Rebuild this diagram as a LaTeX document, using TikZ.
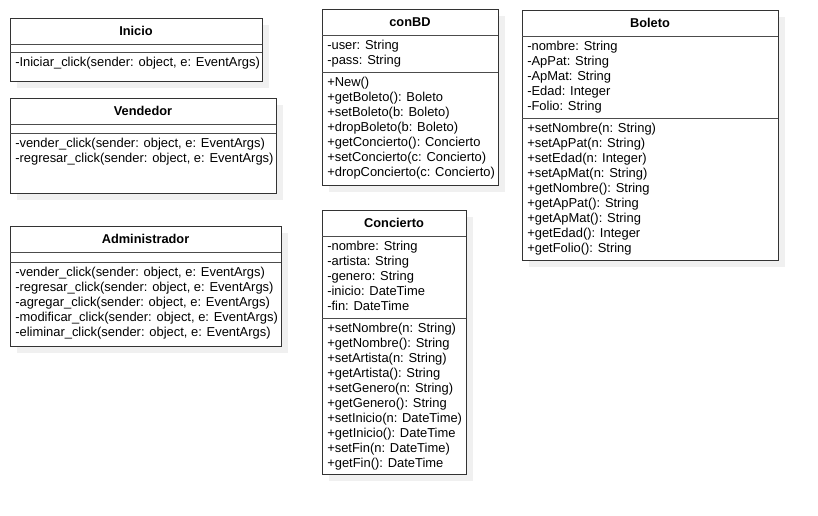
\documentclass[tikz,border=0pt]{standalone}
\usepackage{fontspec}
\setmainfont{Liberation Sans}
\usetikzlibrary{shadows}

\tikzset{
  classbox/.style={rectangle, draw=black!80, line width=0.75pt, fill=white, inner sep=0pt, outer sep=0pt, anchor=north west,
    drop shadow={shadow xshift=5.25pt, shadow yshift=-5.25pt, fill=black!6, opacity=1}},
  classtitle/.style={font=\fontsize{9.6}{11}\selectfont\bfseries, inner sep=0pt, anchor=base},
  classtext/.style={font=\fontsize{9.7}{11}\selectfont, inner sep=0pt, anchor=base west},
  classline/.style={draw=black!70, line width=0.75pt}
}

% #1 name, #2 x, #3 y, #4 width, #5 height, #6 second rule, #7 title, #8 attributes, #9 methods
\newcommand{\umlclass}[9]{
  \node[classbox, minimum width=#4*0.75pt, minimum height=#5*0.75pt] (#1) at (#2,#3) {};
  \node[classtitle] (#1-t) at (#2+#4/2,#3+17.5) {#7};
  \draw[classline] ([yshift=-19.5pt]#1.north west) -- ([yshift=-19.5pt]#1.north east);
  \draw[classline] ([yshift=-#6*0.75pt]#1.north west) -- ([yshift=-#6*0.75pt]#1.north east);
  \foreach \entry [count=\i] in {#8}
    \node[classtext] (#1-a\i) at (#2+5,#3+25+\i*15) {\entry};
  \foreach \entry [count=\i] in {#9}
    \node[classtext] (#1-m\i) at (#2+5,#3+#6-1+\i*15) {\entry};
}

\begin{document}
\begin{tikzpicture}[x=0.75pt, y=-0.75pt]
    \useasboundingbox (0,0) rectangle (818,515);

    \umlclass{inicio}{10}{18}{252}{63}{34}{Inicio}{}
      {{-Iniciar\_click(sender: object, e: EventArgs)}}
    \umlclass{vendedor}{10}{98}{266}{95}{35}{Vendedor}{}
      {{-vender\_click(sender: object, e: EventArgs)},
       {-regresar\_click(sender: object, e: EventArgs)}}
    \umlclass{admin}{10}{226}{271}{120}{36}{Administrador}{}
      {{-vender\_click(sender: object, e: EventArgs)},
       {-regresar\_click(sender: object, e: EventArgs)},
       {-agregar\_click(sender: object, e: EventArgs)},
       {-modificar\_click(sender: object, e: EventArgs)},
       {-eliminar\_click(sender: object, e: EventArgs)}}

    \umlclass{conbd}{322}{9}{176}{176}{63}{conBD}
      {{-user: String},{-pass: String}}
      {{+New()},{+getBoleto(): Boleto},{+setBoleto(b: Boleto)},{+dropBoleto(b: Boleto)},
       {+getConcierto(): Concierto},{+setConcierto(c: Concierto)},{+dropConcierto(c: Concierto)}}

    \umlclass{concierto}{322}{210}{144}{264}{108}{Concierto}
      {{-nombre: String},{-artista: String},{-genero: String},{-inicio: DateTime},{-fin: DateTime}}
      {{+setNombre(n: String)},{+getNombre(): String},{+setArtista(n: String)},{+getArtista(): String},
       {+setGenero(n: String)},{+getGenero(): String},{+setInicio(n: DateTime)},{+getInicio(): DateTime},
       {+setFin(n: DateTime)},{+getFin(): DateTime}}

    \umlclass{boleto}{522}{10}{256}{250}{108}{Boleto}
      {{-nombre: String},{-ApPat: String},{-ApMat: String},{-Edad: Integer},{-Folio: String}}
      {{+setNombre(n: String)},{+setApPat(n: String)},{+setEdad(n: Integer)},{+setApMat(n: String)},
       {+getNombre(): String},{+getApPat(): String},{+getApMat(): String},{+getEdad(): Integer},
       {+getFolio(): String}}

\end{tikzpicture}
\end{document}
